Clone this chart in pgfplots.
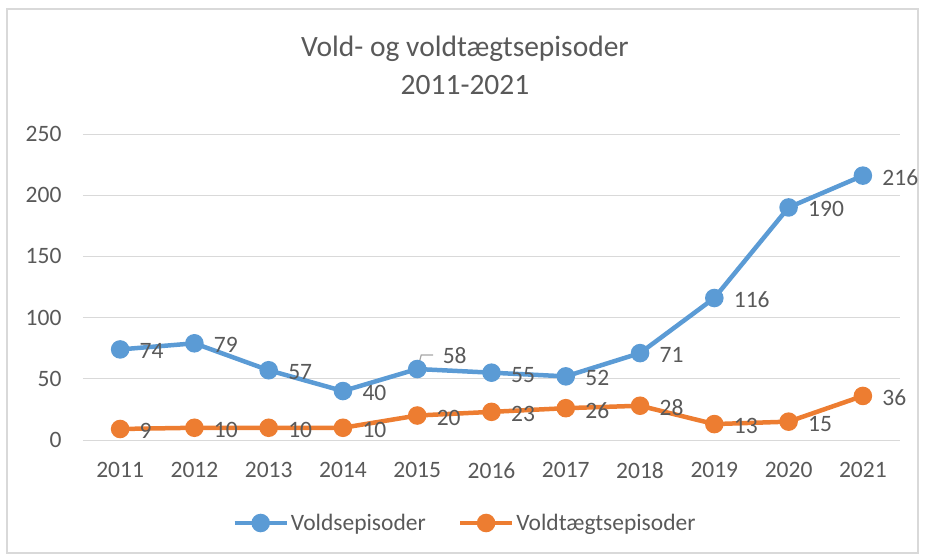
\documentclass[border=0pt]{standalone}
\usepackage{pgfplots}
\pgfplotsset{compat=1.18}
\usetikzlibrary{calc}
\usepackage{fontspec}
\setmainfont{Carlito}
\definecolor{cblue}{HTML}{5B9BD5}
\definecolor{corange}{HTML}{ED7D31}
\definecolor{cgrid}{HTML}{D9D9D9}
\definecolor{ctext}{HTML}{595959}
\begin{document}
\begin{tikzpicture}[x=1pt,y=1pt]
\path (-83,-118) rectangle (842,440);
\draw[cgrid,line width=1.5pt] (-76,-113) rectangle (835,431);
\begin{axis}[
  at={(0,0)}, anchor=south west,
  scale only axis, width=817pt, height=306pt,
  xmin=-0.5, xmax=10.5, ymin=0, ymax=250,
  xtick={0,...,10},
  xticklabels={2011,2012,2013,2014,2015,2016,2017,2018,2019,2020,2021},
  ytick={0,50,100,150,200,250},
  ymajorgrids, grid style={cgrid,line width=1pt},
  axis x line*=bottom,
  axis y line*=left,
  x axis line style={draw=cgrid,line width=1pt,-},
  y axis line style={draw=none},
  tick style={draw=none},
  every tick label/.append style={font=\fontsize{23.5}{27}\selectfont, text=ctext},
  /pgf/number format/assume math mode=true,
  xticklabel style={yshift=-19pt},
  yticklabel style={xshift=-18pt},
  clip=false,
  nodes near coords,
  every node near coord/.append style={font=\fontsize{23.5}{27}\selectfont, text=ctext, anchor=west, xshift=14pt, yshift=-2pt},
  legend style={at={(382pt,-83pt)}, anchor=center, draw=none, fill=none, legend columns=2,
    font=\fontsize{23.5}{27}\selectfont, text=ctext, /tikz/every even column/.append style={column sep=30pt},
    legend cell align=left, inner sep=0pt},
  legend image code/.code={\draw[#1,mark repeat=2,mark phase=2] plot coordinates {(0pt,0pt) (26pt,0pt) (52pt,0pt)};},
]
\addplot[cblue, line width=4.5pt, mark=*, mark size=7pt,
  nodes near coords={\ifnum\coordindex=4\else\pgfmathprintnumber{\pgfplotspointmeta}\fi}]
  coordinates {(0,74) (1,79) (2,57) (3,40) (4,58) (5,55) (6,52) (7,71) (8,116) (9,190) (10,216)};
\addlegendentry{Voldsepisoder}
\addplot[corange, line width=4.5pt, mark=*, mark size=7pt]
  coordinates {(0,9) (1,10) (2,10) (3,10) (4,20) (5,23) (6,26) (7,28) (8,13) (9,15) (10,36)};
\addlegendentry{Voldtægtsepisoder}
\draw[black!35,line width=1.2pt] ($(axis cs:4,58)+(1pt,3pt)$) -- ++(3pt,11pt) -- ++(12pt,0pt);
\node[font=\fontsize{23.5}{27}\selectfont, text=ctext, anchor=west] at ($(axis cs:4,58)+(22pt,13pt)$) {58};
\end{axis}
\node[font=\fontsize{29.5}{38}\selectfont, text=ctext, align=center] at (382,375) {Vold- og voldtægtsepisoder\\2011-2021};
\end{tikzpicture}
\end{document}
